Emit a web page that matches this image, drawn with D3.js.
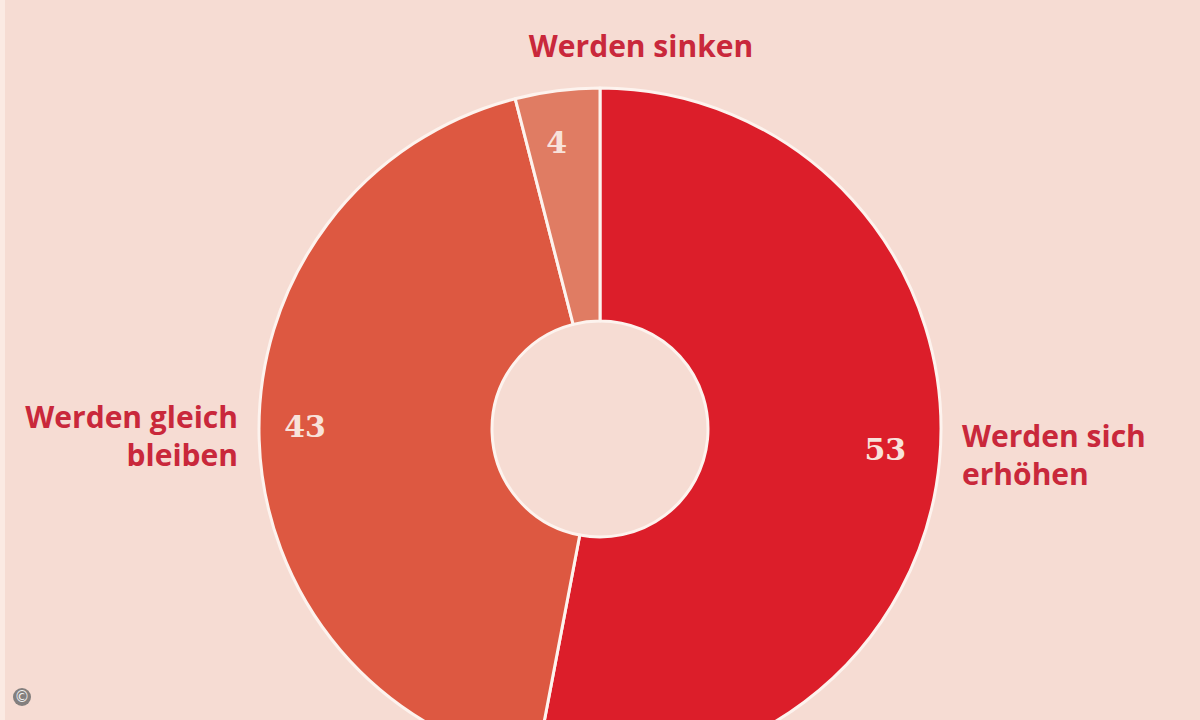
<!DOCTYPE html>
<html>
<head>
<meta charset="utf-8">
<script src="https://cdn.jsdelivr.net/npm/d3@7"></script>
<style>
  html, body { margin: 0; padding: 0; background: #f6dcd3; }
  svg { display: block; }
</style>
</head>
<body>
<svg id="chart"></svg>
<script>
// Daten
const categories = ["Werden sich erhöhen", "Werden gleich bleiben", "Werden sinken"];
const values = [53, 43, 4];
const labelLines = [["Werden sich", "erhöhen"], ["Werden gleich", "bleiben"], ["Werden sinken"]];
const colors = ["#dc1e2a", "#dd5841", "#e07c63"];

const width = 1200, height = 720;
const svg = d3.select("#chart").attr("width", width).attr("height", height);

svg.append("rect").attr("width", width).attr("height", height).attr("fill", "#f6dcd3");
svg.append("rect").attr("width", 5).attr("height", height).attr("fill", "#fbeae3");

const cx = 600, cy = 429;
const outerR = 341, innerR = 108;

const g = svg.append("g").attr("transform", `translate(${cx},${cy})`);

const pie = d3.pie().sort(null).value(d => d);
const arcs = pie(values);
const arc = d3.arc().innerRadius(innerR).outerRadius(outerR);

g.selectAll("path.slice")
  .data(arcs)
  .join("path")
  .attr("class", "slice")
  .attr("d", arc)
  .attr("fill", (d, i) => colors[i])
  .attr("stroke", "#fdf3ee")
  .attr("stroke-width", 3)
  .attr("stroke-linejoin", "round");

// Zahlen in den Segmenten: Winkel (rad) und Radius
const numAngle = [d => Math.PI / 2 + 0.07, d => -Math.PI / 2 + 0.01, d => (d.startAngle + d.endAngle) / 2 - 0.024];
const numR = [286, 295, 290];
g.selectAll("text.num")
  .data(arcs)
  .join("text")
  .attr("class", "num")
  .attr("transform", (d, i) => {
    const a = numAngle[i](d);
    return `translate(${Math.sin(a) * numR[i]},${-Math.cos(a) * numR[i]})`;
  })
  .attr("text-anchor", "middle")
  .attr("dy", "0.36em")
  .attr("font-family", "'DejaVu Serif', serif")
  .attr("font-weight", "bold")
  .attr("font-size", 30)
  .attr("fill", "#f8e2da")
  .text(d => d.data);

// Beschriftungen
const labelPos = [
  { x: 962, y: 447, anchor: "start" },
  { x: 238, y: 428, anchor: "end" },
  { x: 641, y: 57, anchor: "middle" }
];
labelLines.forEach((lines, i) => {
  const t = svg.append("text")
    .attr("x", labelPos[i].x)
    .attr("y", labelPos[i].y)
    .attr("text-anchor", labelPos[i].anchor)
    .attr("font-family", "'Open Sans', sans-serif")
    .attr("font-weight", "bold")
    .attr("font-size", 30)
    .attr("fill", "#c9283b");
  lines.forEach((line, j) => {
    t.append("tspan")
      .attr("x", labelPos[i].x)
      .attr("dy", j === 0 ? 0 : 38)
      .text(line);
  });
});

// Copyright-Zeichen
svg.append("circle").attr("cx", 22).attr("cy", 697).attr("r", 9)
  .attr("fill", "#6e6e6e").attr("opacity", 0.85);
svg.append("text").attr("x", 22).attr("y", 697)
  .attr("dy", "0.35em").attr("text-anchor", "middle")
  .attr("font-family", "'DejaVu Sans', sans-serif")
  .attr("font-size", 15).attr("fill", "#f0f0f0")
  .text("©");
</script>
</body>
</html>
